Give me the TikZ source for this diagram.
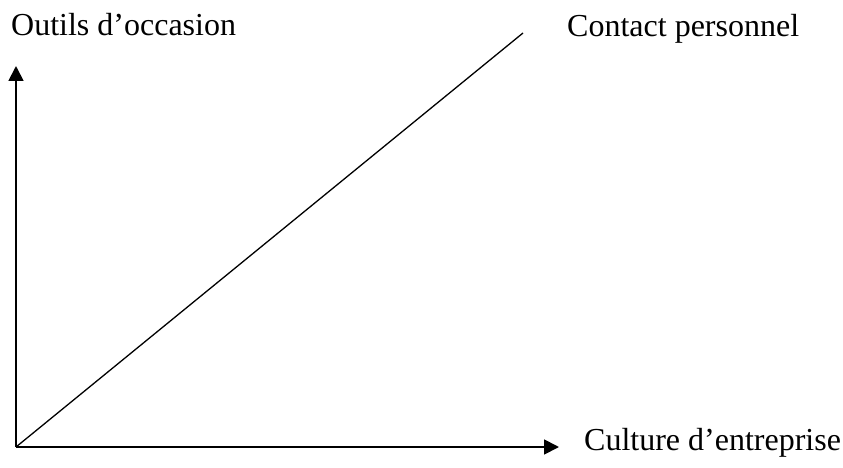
\documentclass[tikz,border=0pt]{standalone}
\usepackage{fontspec}
\setmainfont{Liberation Serif}
\usetikzlibrary{arrows.meta}
\begin{document}
\begin{tikzpicture}[x=1pt,y=1pt,
  axis/.style={line width=1.8pt,-{Triangle[length=15pt,width=15pt]}},
  diag/.style={line width=1.3pt},
  lbl/.style={inner sep=0pt,anchor=base west,font=\fontsize{32}{38}\selectfont}]
\useasboundingbox (0,0) rectangle (843,467);
% axes and diagonal
\coordinate (o) at (16,20);
\coordinate (ytip) at (16,401);
\coordinate (xtip) at (559,20);
\coordinate (dend) at (523,434);
\draw[axis] (o) -- (ytip);
\draw[axis] (o) -- (xtip);
\draw[diag] (o) -- (dend);
% labels
\node[lbl] (ylab) at (11,431) {Outils d’occasion};
\node[lbl] (dlab) at (567,430) {Contact personnel};
\node[lbl] (xlab) at (584,17) {Culture d’entreprise};
\end{tikzpicture}
\end{document}
